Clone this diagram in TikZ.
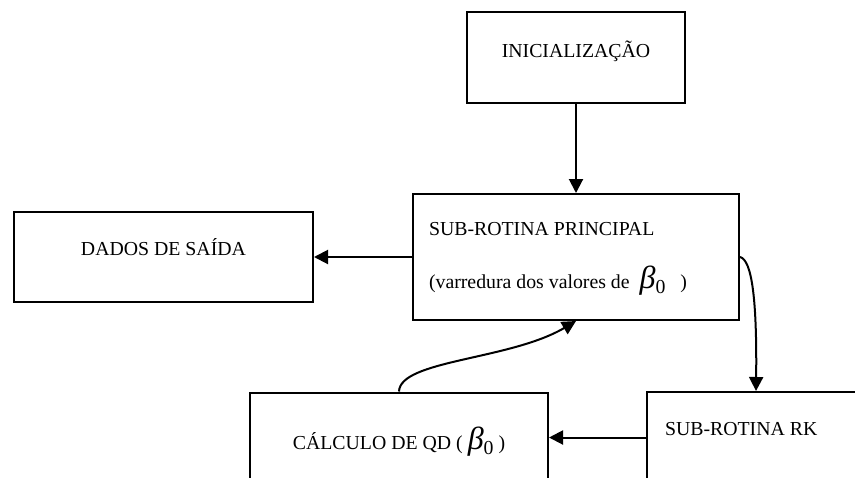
\documentclass[tikz,border=0pt]{standalone}
\usepackage{fontspec}
\setmainfont{Liberation Serif}
\usetikzlibrary{arrows.meta}

\newcommand{\betaz}{{\fontsize{16}{16}\selectfont\itshape β}\raisebox{-2.5pt}{0}}

\begin{document}
\begin{tikzpicture}[x=0.5pt,y=-0.5pt]
\tikzstyle{bloco} = [draw, line width=1pt, rectangle, inner xsep=0pt, inner ysep=0pt, font=\fontsize{9.9}{12}\selectfont]
\tikzstyle{seta} = [-{Triangle[length=7pt,width=7pt]}, line width=1pt]
\clip (0,0) rectangle (855,477);
\node [bloco, minimum width=109pt, text height=22.5pt, text depth=23pt] (ini) at (576,57.5) {INICIALIZAÇÃO};
\node [bloco, text width=147pt, inner xsep=8pt, align=flush left, text height=20.85pt, text depth=42.15pt, font=\fontsize{9.9}{26.3}\selectfont] (princ) at (576,257) {SUB-ROTINA PRINCIPAL\\(varredura dos valores de \ \betaz\hspace{5pt} )};
\node [bloco, minimum width=149.5pt, text height=21.5pt, text depth=23.5pt] (saida) at (163.5,257) {DADOS DE SAÍDA};
\node [bloco, minimum width=149pt, text height=28.5pt, text depth=16.5pt] (calc) at (399,437.5) {CÁLCULO DE QD ( \betaz\ )};
\node [bloco, text width=91pt, inner xsep=9pt, align=flush left, text height=21.5pt, text depth=24pt] (rk) at (756,437.5) {SUB-ROTINA RK};
\draw [seta] (ini) -- (princ);
\draw [seta] (princ) -- (saida);
\draw [seta] (rk) -- (calc);
\draw [seta] (princ.east) .. controls (752,260) and (757,300) .. (rk.north);
\draw [seta] (calc.north) .. controls (400,360) and (510,360) .. (princ.south);
\end{tikzpicture}
\end{document}
